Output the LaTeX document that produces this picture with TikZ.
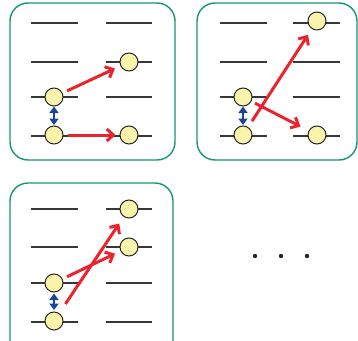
\documentclass[tikz,border=0pt]{standalone}
\usetikzlibrary{arrows.meta}
\definecolor{boxgreen}{RGB}{20,150,115}
\definecolor{lvl}{RGB}{55,55,55}
\definecolor{dotfill}{RGB}{250,244,170}
\definecolor{redarr}{RGB}{235,35,45}
\definecolor{bluearr}{RGB}{25,70,150}
\tikzset{
  panel/.style={draw=boxgreen,line width=1.4pt,rounded corners=18pt},
  level/.style={draw=lvl,line width=1.6pt},
  state/.style={circle,draw=black!85,line width=1pt,fill=dotfill,minimum size=18pt,inner sep=0pt},
  redto/.style={draw=redarr,line width=3pt,-{Straight Barb[length=6.5pt,width=12pt,line width=3pt]}},
  bluedbl/.style={draw=bluearr,line width=2.5pt,{Triangle[length=6.5pt,width=9pt]}-{Triangle[length=6.5pt,width=9pt]}},
  ellip/.style={circle,fill=black!85,minimum size=4.4pt,inner sep=0pt}
}
\begin{document}
\begin{tikzpicture}[x=1pt,y=-1pt]
\useasboundingbox (0,0) rectangle (358,340);
\begin{scope}
\clip (0,0) rectangle (358,340);
% panel 1
\draw[panel] (10,3) rectangle (175,160);
\foreach \y in {23,62,97,136}{
  \draw[level] (31,\y) -- (78,\y);
  \draw[level] (106,\y) -- (152,\y);
}
\node[state] (a1) at (54,97) {};
\node[state] (a2) at (54,135) {};
\node[state] (a3) at (129,62) {};
\node[state] (a4) at (129,135) {};
\draw[bluedbl,shorten <=0pt,shorten >=0.5pt] (a1) -- (a2);
\draw[redto,shorten <=5pt,shorten >=6pt] (a1) -- (a3);
\draw[redto,shorten <=4pt,shorten >=4pt] (a2) -- (a4);
% panel 2
\draw[panel] (197,3) rectangle (357,160);
\foreach \y in {23,62,97,136}{
  \draw[level] (220,\y) -- (267,\y);
  \draw[level] (293,\y) -- (340,\y);
}
\node[state] (b1) at (243,97) {};
\node[state] (b2) at (243,135) {};
\node[state] (b3) at (317,21) {};
\node[state] (b4) at (317,135) {};
\draw[bluedbl,shorten <=0pt,shorten >=0.5pt] (b1) -- (b2);
\draw[redto,shorten <=7pt,shorten >=7pt] (b2) -- (b3);
\draw[redto,shorten <=4pt,shorten >=9pt] (b1) -- (b4);
% panel 3
\draw[panel] (10,183) rectangle (173,360);
\foreach \y in {209,247,283,322}{
  \draw[level] (31,\y) -- (78,\y);
  \draw[level] (106,\y) -- (152,\y);
}
\node[state] (c1) at (54,283) {};
\node[state] (c2) at (54,321) {};
\node[state] (c3) at (129,209) {};
\node[state] (c4) at (129,247) {};
\draw[bluedbl,shorten <=1pt,shorten >=1.5pt] (c1) -- (c2);
\draw[redto,shorten <=11pt,shorten >=8pt] (c2) -- (c3);
\draw[redto,shorten <=5pt,shorten >=6pt] (c1) -- (c4);
\end{scope}
% ellipsis
\node[ellip] (d1) at (255,256) {};
\node[ellip] (d2) at (281,256) {};
\node[ellip] (d3) at (307,256) {};
\end{tikzpicture}
\end{document}
